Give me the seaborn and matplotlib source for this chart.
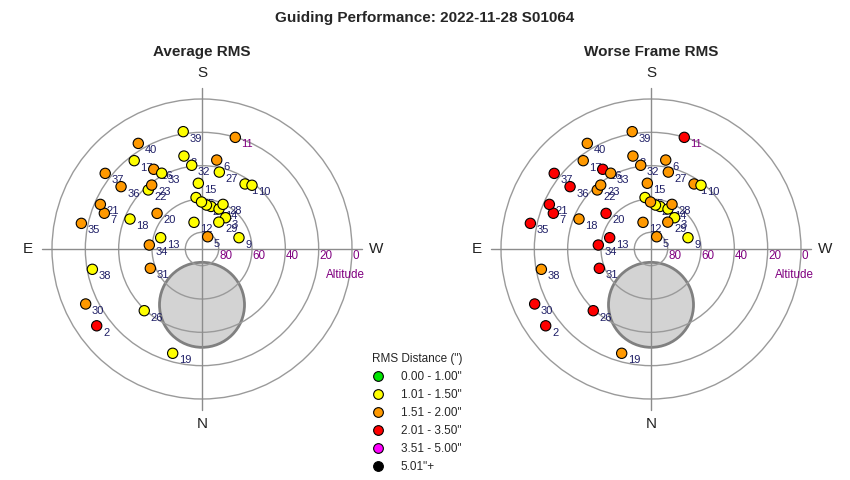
import numpy as np
import pandas as pd
import matplotlib
matplotlib.use('Agg')
import matplotlib.pyplot as plt
from matplotlib.patches import Circle
from matplotlib.lines import Line2D
import seaborn as sns

# frame data (azimuth from N through E, altitude in degrees)
frame_ids = list(range(1, 42))
azimuth = [213.5, 53.9, 217.0, 192.0, 204.9, 189.4, 110.1, 169.0, 253.0, 218.1,
           196.6, 163.3, 105.3, 203.0, 176.8, 148.8, 142.5, 112.6, 15.7, 128.4,
           113.7, 137.7, 141.8, 185.8, 173.4, 43.1, 192.7, 205.2, 212.0, 64.7,
           69.5, 173.0, 152.0, 94.3, 102.0, 127.6, 128.0, 79.5, 170.9, 148.9,
           179.4]
altitude = [43.2, 11.8, 66.5, 63.9, 81.9, 35.9, 27.6, 33.2, 66.8, 41.4,
            20.1, 73.3, 64.3, 63.9, 50.5, 34.1, 23.2, 43.2, 25.0, 55.6,
            23.4, 42.1, 41.2, 63.5, 58.9, 39.3, 42.7, 60.4, 71.0, 12.8,
            56.9, 39.4, 38.5, 58.3, 16.0, 28.7, 16.3, 23.1, 18.7, 16.0,
            61.8]
rms_average = [1.35, 2.30, 1.30, 1.25, 1.70, 1.65, 1.80, 1.40, 1.30, 1.45,
               1.75, 1.35, 1.45, 1.30, 1.40, 1.60, 1.45, 1.40, 1.35, 1.70,
               1.85, 1.45, 1.60, 1.30, 1.25, 1.45, 1.40, 1.35, 1.30, 1.90,
               1.75, 1.40, 1.45, 1.65, 1.80, 1.75, 1.90, 1.40, 1.45, 1.70,
               1.35]
rms_worst = [1.80, 2.90, 1.45, 1.40, 1.85, 1.90, 2.40, 1.70, 1.45, 1.50,
             2.30, 1.75, 2.20, 1.45, 1.80, 2.10, 1.85, 1.90, 1.80, 2.30,
             2.50, 1.95, 1.90, 1.45, 1.40, 2.20, 1.80, 1.70, 1.65, 2.60,
             2.20, 1.75, 1.85, 2.30, 2.70, 2.40, 2.60, 1.80, 1.90, 1.95,
             1.60]

bin_edges = [0, 1.005, 1.505, 2.005, 3.505, 5.005, np.inf]
bin_labels = ['0.00 - 1.00"', '1.01 - 1.50"', '1.51 - 2.00"',
              '2.01 - 3.50"', '3.51 - 5.00"', '5.01"+']
bin_colors = ['#00e600', '#ffff00', '#ff9900', '#ff0000', '#ff00ff', '#000000']

ring_altitudes = [80, 60, 40, 20, 0]

# grey obstruction disc (centre altitude/azimuth, radius in degrees)
obstruction_alt = 56.5
obstruction_az = 0.0
obstruction_radius = 25.5

sns.set_style('white')
plt.rcParams['font.family'] = ['Liberation Sans', 'DejaVu Sans']

df = pd.DataFrame({'frame': frame_ids, 'az': azimuth, 'alt': altitude,
                   'avg': rms_average, 'worst': rms_worst})
zd = 90 - df['alt']
df['x'] = -zd * np.sin(np.radians(df['az']))
df['y'] = -zd * np.cos(np.radians(df['az']))

palette = dict(zip(bin_labels, bin_colors))
LABEL_COLOR = '#1f1f66'
GRID_COLOR = '#9a9a9a'
PURPLE = '#800080'


def draw_panel(ax, column):
    """Draw one sky panel coloured by the given RMS column"""
    data = df.copy()
    data['bin'] = pd.cut(data[column], bins=bin_edges, labels=bin_labels)

    # obstruction disc under the grid
    ozd = 90 - obstruction_alt
    ox = -ozd * np.sin(np.radians(obstruction_az))
    oy = -ozd * np.cos(np.radians(obstruction_az))
    ax.add_patch(Circle((ox, oy), obstruction_radius, facecolor='#d3d3d3',
                        edgecolor='#808080', lw=2, zorder=1))

    for alt in ring_altitudes:
        ax.add_patch(Circle((0, 0), 90 - alt, fill=False, ec=GRID_COLOR,
                            lw=1, zorder=2))
        ax.text(90 - alt + 0.3, -4.3, str(alt), color=PURPLE, fontsize=8.4,
                ha='left', va='center', zorder=2)
    ax.plot([-96, 96], [0, 0], color='#8c8c8c', lw=1, zorder=2)
    ax.plot([0, 0], [-96.5, 96.5], color='#8c8c8c', lw=1, zorder=2)
    ax.text(86, -15.6, 'Altitude', color=PURPLE, fontsize=8.4,
            ha='center', va='center')

    for lbl, (tx, ty) in {'S': (0, 105.6), 'N': (0, -105.3),
                          'E': (-104.5, 0), 'W': (104.5, 0)}.items():
        ax.text(tx, ty, lbl, fontsize=11, color='#222222',
                ha='center', va='center')

    for _, row in data.iterrows():
        color = PURPLE if row['frame'] == 11 else LABEL_COLOR
        ax.annotate(str(int(row['frame'])), (row['x'], row['y']),
                    xytext=(4.5, -5), textcoords='offset points',
                    fontsize=8, color=color, ha='left', va='center',
                    zorder=3)

    sns.scatterplot(data=data, x='x', y='y', hue='bin', palette=palette,
                    hue_order=bin_labels, s=55, edgecolor='black',
                    linewidth=0.8, legend=False, ax=ax, zorder=4)

    ax.set_xlim(-105, 105)
    ax.set_ylim(-105, 105)
    ax.set_aspect('equal')
    ax.axis('off')


fig = plt.figure(figsize=(8.5, 4.8), dpi=100)
W, H = 850, 480
half = 175
for cx, column, title in [(202, 'avg', 'Average RMS'),
                          (651, 'worst', 'Worse Frame RMS')]:
    ax = fig.add_axes([(cx - half) / W, (231 - half) / H,
                       2 * half / W, 2 * half / H])
    draw_panel(ax, column)
    fig.text(cx / W, 1 - 52 / H, title, fontsize=11, fontweight='bold',
             ha='center', va='center')

fig.text(425 / W, 1 - 18 / H, 'Guiding Performance: 2022-11-28 S01064',
         fontsize=11, fontweight='bold', ha='center', va='center')

handles = [Line2D([], [], marker='o', linestyle='', markerfacecolor=c,
                  markeredgecolor='black', markeredgewidth=0.8, markersize=7)
           for c in bin_colors]
fig.legend(handles, bin_labels, title='RMS Distance (")', loc='upper left',
           bbox_to_anchor=(361 / W, 1 - 342 / H), frameon=False,
           fontsize=8.5, title_fontsize=8.5, handlelength=1.0,
           handletextpad=1.45, labelspacing=0.52, alignment='left',
           borderpad=0.4)

fig.savefig('out.png', dpi=100)
